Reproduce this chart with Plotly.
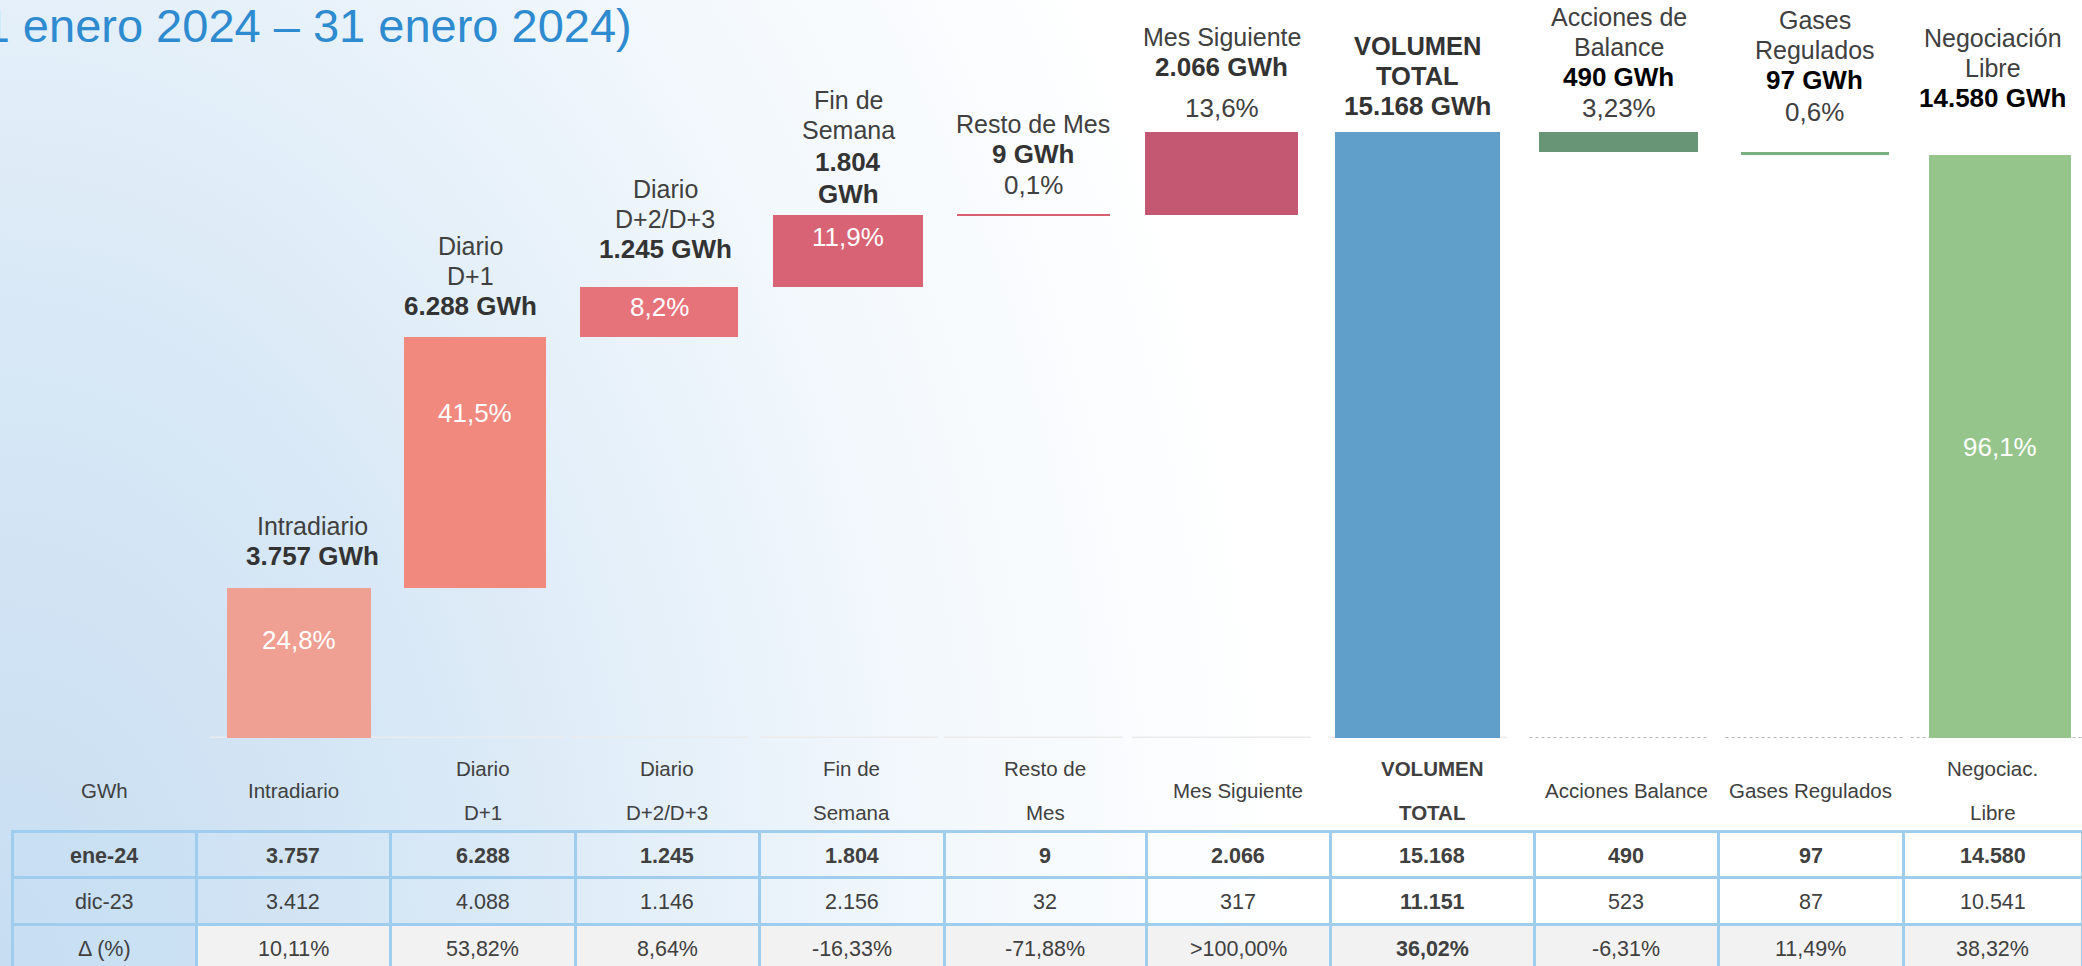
import plotly.graph_objects as go

# ---------------- data ----------------
categories = ["Intradiario", "Diario D+1", "Diario D+2/D+3", "Fin de Semana", "Resto de Mes",
              "Mes Siguiente", "VOLUMEN TOTAL", "Acciones de Balance", "Gases Regulados",
              "Negociación Libre"]
bar_titles = ["Intradiario", "Diario<br>D+1", "Diario<br>D+2/D+3", "Fin de<br>Semana", "Resto de Mes",
              "Mes Siguiente", "VOLUMEN<br>TOTAL", "Acciones de<br>Balance", "Gases<br>Regulados",
              "Negociación<br>Libre"]
ene24 = [3757, 6288, 1245, 1804, 9, 2066, 15168, 490, 97, 14580]
dic23 = [3412, 4088, 1146, 2156, 32, 317, 11151, 523, 87, 10541]
delta_pct = ["10,11%", "53,82%", "8,64%", "-16,33%", "-71,88%", ">100,00%", "36,02%",
             "-6,31%", "11,49%", "38,32%"]
share_pct = ["24,8%", "41,5%", "8,2%", "11,9%", "0,1%", "13,6%", "", "3,23%", "0,6%", "96,1%"]
measure = ["up", "up", "up", "up", "up", "up", "total", "down", "down", "total"]
table_head = ["GWh", "Intradiario", "Diario<br>D+1", "Diario<br>D+2/D+3", "Fin de<br>Semana",
              "Resto de<br>Mes", "Mes Siguiente", "VOLUMEN<br>TOTAL", "Acciones Balance",
              "Gases Regulados", "Negociac.<br>Libre"]
row_labels = ["ene-24", "dic-23", "Δ (%)"]
title_text = "(1 enero 2024 – 31 enero 2024)"

# ---------------- styles ----------------
W, H = 2082, 966
X_DOMAIN_PX = (188, 2082)
X_RANGE = (-0.5, 9.463)
PITCH = (X_DOMAIN_PX[1] - X_DOMAIN_PX[0]) / (X_RANGE[1] - X_RANGE[0])
bar_colors = ["#f0a093", "#f1897f", "#e7737a", "#d86374", "#d9606f", "#c45872",
              "#619fcb", "#679575", "#77af7f", "#95c58b"]
bar_widths = [0.757, 0.747, 0.831, 0.789, 0.805, 0.805, 0.868, 0.836, 0.779, 0.747]
bar_shift_px = [16, 2, -4, -5, -10, -12, -6, 5, 11, 6]
label_dx_px = [13, -5, 6, 0, 0, 0, 0, 0, 0, -7]
outline = [0, 0, 0, 0, 2, 0, 0, 0, 0, 0]
share_inside = [True, True, True, True, False, False, False, False, False, True]
inside_shift = [23, 49, 5, 14, 0, 0, 0, 0, 0, 0]
pct_gap = [0, 0, 0, 0, 30, 24, 0, 24, 40, 0]          # px from bar top to pct line centre
value_gap = [32, 31, 38, 21, 61, 65, 26, 55, 72, 57]   # px from bar top to value line centre
line_step = 30
value_color = ["#333333"] * 7 + ["#000000"] * 3
wrap_value = [False, False, False, True, False, False, False, False, False, False]
all_bold = [False] * 6 + [True] + [False] * 3
col_widths = [184, 194, 185, 184, 185, 202, 184, 204, 184, 185, 179]
table_left = 12
table_top = 740
header_h, cell_h = 91, 46.5
FONT = "Liberation Sans, Arial, sans-serif"
TXT = "#404040"


def fmt(n):
    return f"{n:,}".replace(",", ".")


# waterfall bases
bases = []
running = 0
for v, m in zip(ene24, measure):
    if m == "up":
        bases.append(running)
        running += v
    elif m == "total":
        bases.append(0)
        running = v
    else:
        running -= v
        bases.append(running)
tops = [b + v for b, v in zip(bases, ene24)]
offsets = [-w / 2 + s / PITCH for w, s in zip(bar_widths, bar_shift_px)]

fig = go.Figure()

# background gradient (decoration)
fig.add_trace(go.Scatter(
    x=[-0.62, 0.62, 0.62, -0.62, -0.62], y=[-1.9, -1.9, 1.9, 1.9, -1.9],
    mode="lines", fill="toself", line=dict(width=0),
    fillgradient=dict(type="radial",
                      colorscale=[[0, "#c7ddf1"], [0.35, "#d8e8f6"], [0.7, "#f1f7fc"], [1, "#ffffff"]]),
    hoverinfo="skip", showlegend=False, xaxis="x", yaxis="y"))

# bars
fig.add_trace(go.Bar(
    x=categories, y=ene24, base=bases, width=bar_widths, offset=offsets,
    marker=dict(color=bar_colors, line=dict(color=bar_colors, width=outline)),
    hoverinfo="skip", showlegend=False, xaxis="x2", yaxis="y2"))

# table grid and fills (texts are centred annotations below)
table_cols = [[row_labels[0], row_labels[1], row_labels[2]]]
table_bold = [[True, False, False]]
fills = [["rgba(200,224,244,0.45)"] * 3]
for i in range(len(categories)):
    table_cols.append([fmt(ene24[i]), fmt(dic23[i]), delta_pct[i]])
    table_bold.append([True, all_bold[i], all_bold[i]])
    fills.append(["rgba(255,255,255,0)", "rgba(255,255,255,0)", "#f2f2f2"])

fig.add_trace(go.Table(
    domain=dict(x=[table_left / W, 1], y=[0, (H - table_top) / H]),
    columnwidth=col_widths,
    header=dict(values=[""] * len(table_head), height=header_h,
                fill=dict(color="rgba(0,0,0,0)"), line=dict(color="rgba(0,0,0,0)", width=0)),
    cells=dict(values=[[""] * 3 for _ in table_cols], height=cell_h,
               fill=dict(color=fills), line=dict(color="#9fcdee", width=3))))

annotations = []

# table header and cell texts
header_mid = 790
cx = table_left
for j, h in enumerate(table_head):
    center = cx + col_widths[j] / 2
    cx += col_widths[j]
    lines = h.split("<br>")
    offs = [0] if len(lines) == 1 else [-22, 22]
    for ln, off in zip(lines, offs):
        t = f"<b>{ln}</b>" if (j > 0 and all_bold[j - 1]) else ln
        annotations.append(dict(xref="paper", yref="paper", x=center / W, y=(H - header_mid - off) / H,
                                text=t, showarrow=False, xanchor="center", yanchor="middle",
                                font=dict(family=FONT, size=20.5, color=TXT)))
    for r, val in enumerate(table_cols[j]):
        ypx = table_top + header_h + cell_h * (r + 0.5) + 1.5
        t = f"<b>{val}</b>" if table_bold[j][r] else val
        annotations.append(dict(xref="paper", yref="paper", x=center / W, y=(H - ypx) / H,
                                text=t, showarrow=False, xanchor="center", yanchor="middle",
                                font=dict(family=FONT, size=21.5, color=TXT)))


def line_ann(cat, y, shift_y, shift_x, text, size, color):
    return dict(xref="x2", yref="y2", x=cat, y=y, text=text, showarrow=False,
                xanchor="center", yanchor="middle", yshift=shift_y, xshift=shift_x,
                font=dict(family=FONT, size=size, color=color))


# bar labels: one annotation per text line, stacked upwards from the bar top
for i, cat in enumerate(categories):
    dx = bar_shift_px[i] + label_dx_px[i]
    if share_pct[i] and not share_inside[i]:
        annotations.append(line_ann(cat, tops[i], pct_gap[i], bar_shift_px[i], share_pct[i], 26, TXT))
    val = fmt(ene24[i]) + " GWh"
    val_lines = (val.split(" ") if wrap_value[i] else [val])[::-1]
    gap = value_gap[i]
    for k, vl in enumerate(val_lines):
        annotations.append(line_ann(cat, tops[i], gap, dx, f"<b>{vl}</b>", 26, value_color[i]))
        gap += line_step + (2 if wrap_value[i] else 0)
    for tl in bar_titles[i].split("<br>")[::-1]:
        if all_bold[i]:
            annotations.append(line_ann(cat, tops[i], gap, dx, f"<b>{tl}</b>", 25.5, "#333333"))
        else:
            annotations.append(line_ann(cat, tops[i], gap, dx, tl, 25, TXT))
        gap += line_step
    if share_pct[i] and share_inside[i]:
        annotations.append(line_ann(cat, bases[i] + ene24[i] / 2, inside_shift[i], bar_shift_px[i],
                                    share_pct[i], 26, "#ffffff"))

# title (partially cut at the left edge as in the original)
annotations.append(dict(xref="paper", yref="paper", x=634 / W, y=1 + 3 / H, text=title_text,
                        showarrow=False, xanchor="right", yanchor="top",
                        font=dict(family=FONT, size=47, color="#2e8bcf")))

# baseline segments under each column
shapes = []
for i, cat in enumerate(categories):
    solid = i < 7
    c = i + bar_shift_px[i] / PITCH
    shapes.append(dict(type="line", xref="x2", yref="y2", x0=c - 0.47, x1=c + 0.47, y0=0, y1=0,
                       layer="below",
                       line=dict(color="#ebebeb" if solid else "#b5b5b5", width=3 if solid else 2,
                                 dash="solid" if solid else "dot")))

fig.update_layout(
    width=W, height=H, margin=dict(l=0, r=0, t=0, b=0),
    paper_bgcolor="#ffffff", plot_bgcolor="rgba(0,0,0,0)",
    xaxis=dict(domain=[0, 1], range=[0, 1], visible=False, fixedrange=True),
    yaxis=dict(domain=[0, 1], range=[0, 1], visible=False, fixedrange=True),
    xaxis2=dict(domain=[X_DOMAIN_PX[0] / W, X_DOMAIN_PX[1] / W], range=list(X_RANGE), visible=False,
                anchor="y2", type="category", categoryorder="array", categoryarray=categories,
                fixedrange=True),
    yaxis2=dict(domain=[(H - 738) / H, 1], range=[0, 18472], visible=False, anchor="x2",
                fixedrange=True),
    annotations=annotations, shapes=shapes, bargap=0, showlegend=False,
    font=dict(family=FONT, color=TXT),
)

fig.write_html("out.html", config={"displayModeBar": False},
               post_script="document.documentElement.style.margin='0';"
                           "document.body.style.margin='0';document.body.style.overflow='hidden';")
